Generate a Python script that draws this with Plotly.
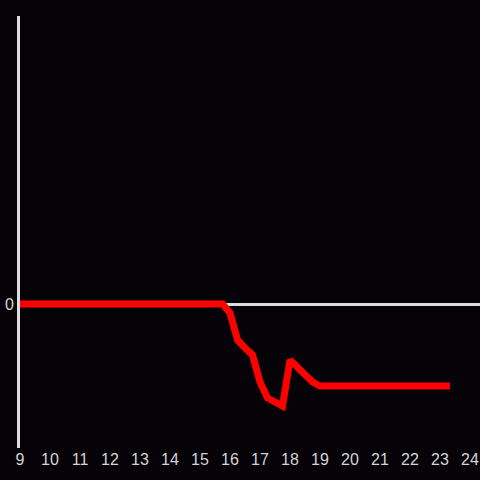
import plotly.graph_objects as go

hours = [9.0, 15.75, 16.0, 16.25, 16.5, 16.75, 17.0, 17.25, 17.5, 17.75, 18.0, 18.25,
         18.5, 18.75, 19.0, 19.25, 20.0, 21.0, 22.0, 23.0, 23.33]
values = [0.0, 0.0, -0.9, -3.6, -4.4, -5.1, -7.8, -9.4, -9.8, -10.2, -5.6, -6.4,
          -7.1, -7.8, -8.2, -8.2, -8.2, -8.2, -8.2, -8.2, -8.2]
x_ticks = list(range(9, 25))

fig = go.Figure(go.Scatter(x=hours, y=values, mode="lines",
                           line=dict(color="#ff0000", width=7)))

fig.update_layout(
    width=480, height=480,
    paper_bgcolor="#050308", plot_bgcolor="#050308",
    margin=dict(l=20, r=0, t=16, b=32),
    showlegend=False,
    font=dict(family="Liberation Sans, Arial", size=16, color="#d4d4d4"),
)
fig.update_xaxes(range=[9, 24.333], tickvals=x_ticks, showgrid=False,
                 zeroline=False, showline=False, ticks="")
fig.update_yaxes(range=[-14.4, 28.8], tickvals=[0], showgrid=False,
                 zeroline=True, zerolinecolor="#dddddd", zerolinewidth=3,
                 showline=True, linecolor="#dddddd", linewidth=3, ticks="")

fig.write_html("out.html", config={"displayModeBar": False},
               post_script="document.body.style.margin='0';")
